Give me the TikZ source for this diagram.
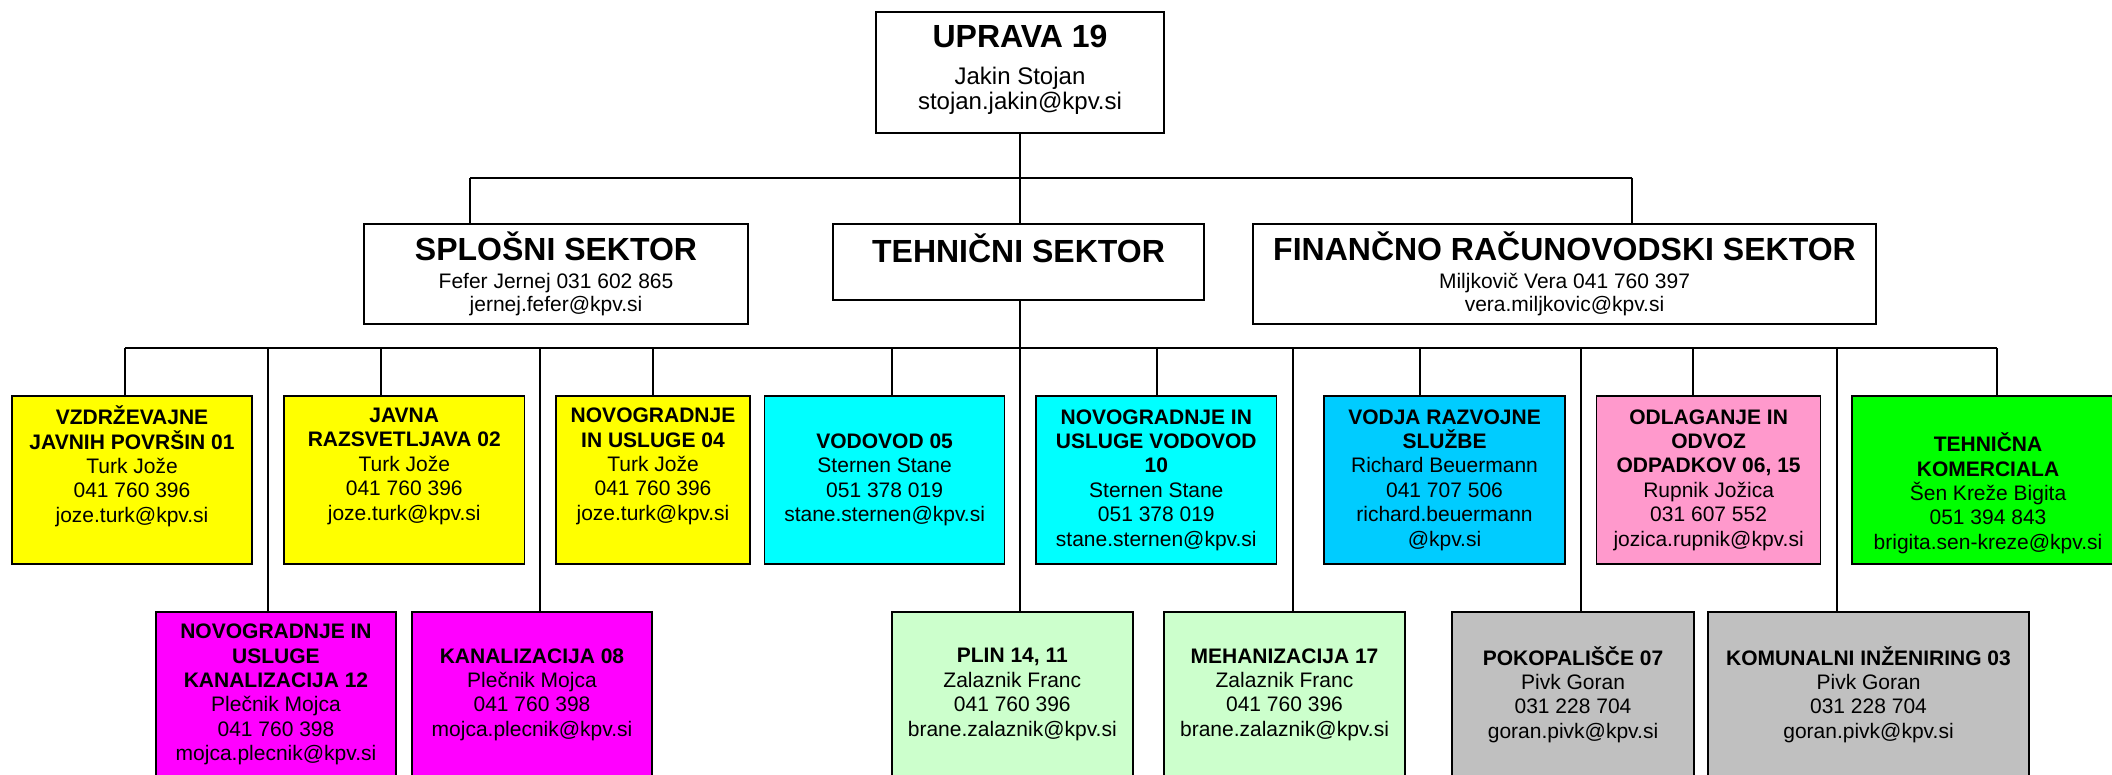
\documentclass[tikz,border=0pt]{standalone}
\usepackage{fontspec}
\setmainfont{Liberation Sans}

\definecolor{unitYellow}{HTML}{FFFF00}
\definecolor{unitCyan}{HTML}{00FFFF}
\definecolor{unitSky}{HTML}{00CCFF}
\definecolor{unitRose}{HTML}{FF99CC}
\definecolor{unitLime}{HTML}{00FF00}
\definecolor{unitMagenta}{HTML}{FF00FF}
\definecolor{unitMint}{HTML}{CCFFCC}
\definecolor{unitGrey}{HTML}{C0C0C0}

\tikzset{
  box/.style={draw=black, line width=0.8pt, inner sep=0pt, align=center},
  head/.style={box, minimum height=50pt, font=\fontsize{10.5}{11.5}\selectfont},
  unit/.style={box, minimum width=120pt, minimum height=84pt, font=\fontsize{10.5}{12.2}\selectfont},
  lowunit/.style={unit, minimum height=82.5pt},
  link/.style={line width=0.8pt},
}

\newcommand{\bigtitle}[1]{{\fontsize{16}{18}\selectfont\bfseries #1}}

\begin{document}
\begin{tikzpicture}[x=0.5pt,y=-0.5pt]

\clip (0,0) rectangle (2112,775);
\fill[white] (0,0) rectangle (2112,775);

\node[box, minimum width=144pt, minimum height=60.5pt, font=\fontsize{12}{12.5}\selectfont] (upr) at (1020,72.5)
  {\bigtitle{UPRAVA 19}\\[5.7pt]Jakin Stojan\\stojan.jakin@kpv.si\rule[-5.3pt]{0pt}{0pt}};

\node[head, minimum width=192pt] (spl) at (556,274)
  {\bigtitle{SPLOŠNI SEKTOR}\\[2.5pt]Fefer Jernej 031 602 865\\jernej.fefer@kpv.si};
\node[head, minimum width=185.5pt, minimum height=38pt] (teh) at (1018.5,262)
  {\bigtitle{TEHNIČNI SEKTOR}\\[2.5pt]\mbox{}};
\node[head, minimum width=311.5pt] (fin) at (1564.5,274)
  {\bigtitle{FINANČNO RAČUNOVODSKI SEKTOR}\\[2.5pt]Miljkovič Vera 041 760 397\\vera.miljkovic@kpv.si};

\node[unit, fill=unitYellow] (vzd) at (132,480)
  {\textbf{VZDRŽEVAJNE}\\\textbf{JAVNIH POVRŠIN 01}\\Turk Jože\\041 760 396\\joze.turk@kpv.si\\\strut};
\node[unit, fill=unitYellow, minimum width=120.25pt] (jrz) at (404.25,480)
  {\textbf{JAVNA}\\\textbf{RAZSVETLJAVA 02}\\Turk Jože\\041 760 396\\joze.turk@kpv.si\\\strut};
\node[unit, fill=unitYellow, minimum width=97pt] (nov04) at (653,480)
  {\textbf{NOVOGRADNJE}\\\textbf{IN USLUGE 04}\\Turk Jože\\041 760 396\\joze.turk@kpv.si\\\strut};
\node[unit, fill=unitCyan] (vod05) at (884.6,480)
  {\textbf{VODOVOD 05}\\Sternen Stane\\051 378 019\\stane.sternen@kpv.si};
\node[unit, fill=unitCyan, minimum width=120.3pt] (vod10) at (1156.3,480)
  {\textbf{NOVOGRADNJE IN}\\\textbf{USLUGE VODOVOD}\\\textbf{10}\\Sternen Stane\\051 378 019\\stane.sternen@kpv.si};
\node[unit, fill=unitSky, minimum width=120.5pt] (razv) at (1444.5,480)
  {\textbf{VODJA RAZVOJNE}\\\textbf{SLUŽBE}\\Richard Beuermann\\041 707 506\\richard.beuermann\\@kpv.si};
\node[unit, fill=unitRose, minimum width=112pt] (odp) at (1708.6,480)
  {\textbf{ODLAGANJE IN}\\\textbf{ODVOZ}\\\textbf{ODPADKOV 06, 15}\\Rupnik Jožica\\031 607 552\\jozica.rupnik@kpv.si};
\node[unit, fill=unitLime, minimum width=136pt] (tkom) at (1988,480)
  {\strut\\\textbf{TEHNIČNA}\\\textbf{KOMERCIALA}\\Šen Kreže Bigita\\051 394 843\\brigita.sen-kreze@kpv.si};

\node[lowunit, fill=unitMagenta] (kan12) at (276,694.5)
  {\textbf{NOVOGRADNJE IN}\\\textbf{USLUGE}\\\textbf{KANALIZACIJA 12}\\Plečnik Mojca\\041 760 398\\mojca.plecnik@kpv.si};
\node[lowunit, fill=unitMagenta] (kan08) at (532,694.5)
  {\textbf{KANALIZACIJA 08}\\Plečnik Mojca\\041 760 398\\mojca.plecnik@kpv.si};
\node[lowunit, fill=unitMint, minimum width=120.5pt] (plin) at (1012.3,694.5)
  {\textbf{PLIN 14, 11}\\Zalaznik Franc\\041 760 396\\brane.zalaznik@kpv.si};
\node[lowunit, fill=unitMint, minimum width=120.5pt] (meh) at (1284.5,694.5)
  {\textbf{MEHANIZACIJA 17}\\Zalaznik Franc\\041 760 396\\brane.zalaznik@kpv.si};
\node[lowunit, fill=unitGrey, minimum width=121pt] (pok) at (1573,694.5)
  {\textbf{POKOPALIŠČE 07}\\Pivk Goran\\031 228 704\\goran.pivk@kpv.si};
\node[lowunit, fill=unitGrey, minimum width=160.5pt] (kom03) at (1868.5,694.5)
  {\textbf{KOMUNALNI INŽENIRING 03}\\Pivk Goran\\031 228 704\\goran.pivk@kpv.si};

\coordinate (topL) at (470,178);
\coordinate (topR) at (1632,178);

\draw[link] (upr.south) -- (upr.south |- topL);
\draw[link] (topL) -- (topR);
\draw[link] (topL) -- (topL |- spl.north);
\draw[link] (upr.south |- topL) -- (upr.south |- teh.north);
\draw[link] (topR) -- (topR |- fin.north);

\coordinate (midL) at (125,348);
\coordinate (midR) at (1997,348);

\draw[link] (midL) -- (midR);
\draw[link] (upr.south |- teh.south) -- (upr.south |- midL);

\foreach \xx/\tgt in {125/vzd, 268/kan12, 381/jrz, 540/kan08, 653/nov04, 892/vod05, 1020/plin,
  1157/vod10, 1293/meh, 1420/razv, 1581/pok, 1693/odp, 1837/kom03, 1997/tkom}
{
  \coordinate (d\tgt) at (\xx,348);
  \draw[link] (d\tgt) -- (d\tgt |- \tgt.north);
}

\end{tikzpicture}
\end{document}
